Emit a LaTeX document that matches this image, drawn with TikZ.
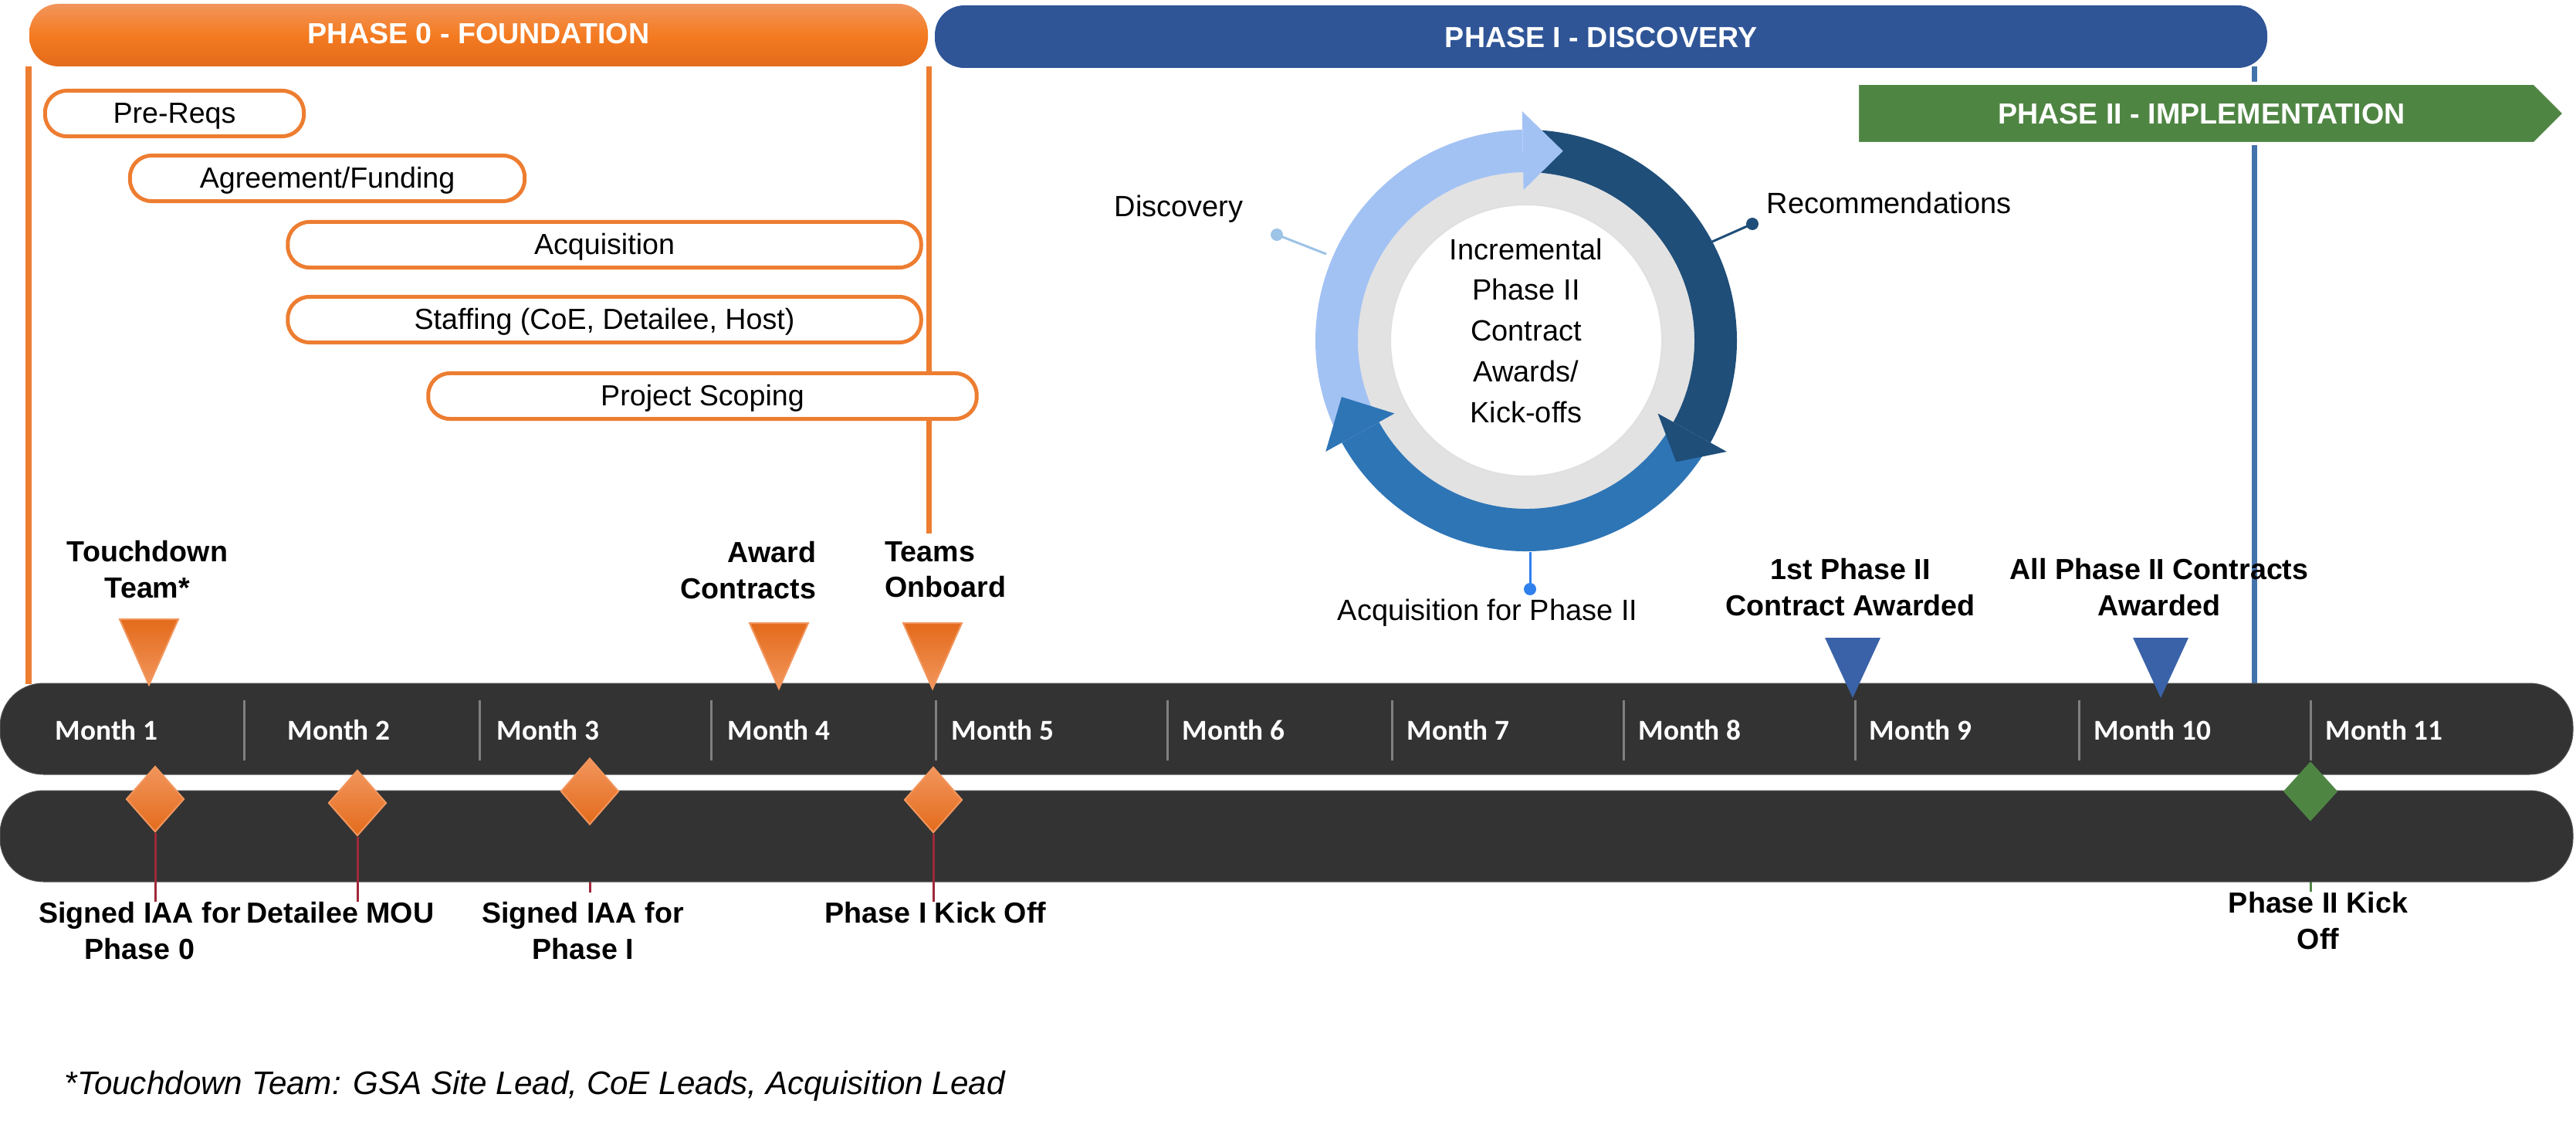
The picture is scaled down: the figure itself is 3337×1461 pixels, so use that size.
\documentclass[tikz,border=0pt]{standalone}
\usepackage{fontspec}
\setmainfont{Liberation Sans}
\newfontfamily\calibri{Carlito}
\usetikzlibrary{shapes.geometric}
\pgfdeclarelayer{back}
\pgfsetlayers{back,main}

\definecolor{orng}{HTML}{ED7D31}
\definecolor{otop}{HTML}{F2955C}
\definecolor{omid}{HTML}{F47B21}
\definecolor{obot}{HTML}{E36B1B}
\definecolor{phaseblue}{HTML}{2F5597}
\definecolor{phasegreen}{HTML}{4F8543}
\definecolor{barbg}{HTML}{333333}
\definecolor{sepgrey}{HTML}{808080}
\definecolor{triblue}{HTML}{3A62A8}
\definecolor{stemred}{HTML}{A0283A}
\definecolor{vblue}{HTML}{4472AB}
\definecolor{arclight}{HTML}{A3C2F4}
\definecolor{arcdark}{HTML}{1F4E79}
\definecolor{arcmid}{HTML}{2E75B6}
\definecolor{leadlight}{HTML}{9DC3E6}
\definecolor{leadbright}{HTML}{2F80ED}
\definecolor{ringgrey}{HTML}{E2E2E2}

\begin{document}
\begin{tikzpicture}[x=0.01cm, y=-0.01cm,
    task/.style={draw=orng, line width=0.05cm, fill=white, rounded corners=0.28cm,
      minimum height=0.59cm, inner sep=0, text height=0.716em, text depth=0pt,
      font=\fontsize{10.7}{13}\selectfont},
    ptitle/.style={anchor=base, inner sep=0, text=white, font=\bfseries\fontsize{10.7}{13}\selectfont},
    mlabel/.style={anchor=north, inner sep=0, align=center, font=\bfseries\fontsize{10.7}{13.1}\selectfont},
    clabel/.style={inner sep=0, font=\fontsize{10.8}{13}\selectfont},
    month/.style={anchor=base west, inner sep=0, text=white, font=\calibri\bfseries\fontsize{10.6}{12}\selectfont},
    sep/.style={sepgrey, line width=0.03cm},
    otri/.style={top color=obot, bottom color=otop, draw=otop, line width=0.02cm},
    btri/.style={fill=triblue},
    kick/.style={diamond, inner sep=0, minimum width=0.75cm, minimum height=0.85cm,
      top color=otop, bottom color=obot, draw=otop, line width=0.02cm},
    stem/.style={stemred, line width=0.03cm},
    vline/.style={line width=0.07cm}]
\useasboundingbox (0,0) rectangle (3337,1461);

% phase markers
\draw[vline, orng] (37,86) -- (37,886);
\draw[vline, orng] (1203,86) -- (1203,691);
\draw[vline, vblue] (2920,86) -- (2920,886);
\draw[rounded corners=0.38cm, top color=otop, bottom color=obot, middle color=omid, draw=none]
    (38,5) rectangle (1202,86);
\fill[phaseblue, rounded corners=0.38cm] (1211,7) rectangle (2937,88);
\draw[fill=phasegreen, draw=white, line width=0.04cm]
    (2406,108) -- (3283,108) -- (3322,147) -- (3283,186) -- (2406,186) -- cycle;
\node[ptitle] (p0) at (620,57) {PHASE 0 - FOUNDATION};
\node[ptitle] (p1) at (2074,62) {PHASE I - DISCOVERY};
\node[ptitle] (p2) at (2852,161) {PHASE II - IMPLEMENTATION};

% phase 0 tasks
\node[task, minimum width=3.35cm] (prereq) at (226,147) {Pre-Reqs};
\node[task, minimum width=5.11cm] (agree) at (424,231) {Agreement/Funding};
\node[task, minimum width=8.20cm] (acq) at (783,317) {Acquisition};
\node[task, minimum width=8.20cm] (staff) at (783,414) {Staffing (CoE, Detailee, Host)};
\node[task, minimum width=7.10cm] (scope) at (910,513) {Project Scoping};

% discovery cycle
\begin{scope}[shift={(1977,441)}, yscale=-1]
  \fill[ringgrey] (0,0) circle (223);
  \draw[fill=white, draw=black!12, line width=0.02cm] (0,0) circle (176);
  \foreach \c/\a/\b in {arclight/205/91, arcdark/86/-29, arcmid/-32/-151}
    \fill[\c] (\a:273) arc[start angle=\a, end angle=\b, radius=273]
      -- (\b:218) arc[start angle=\b, end angle=\a, radius=218] -- cycle;
  \foreach \c/\b/\t in {arclight/91/79, arcdark/-29/-39, arcmid/-151/-163}
    \fill[\c] (\b:195) -- (\b:297) -- (\t:250) -- cycle;
\end{scope}
\node[clabel, align=center, font=\fontsize{10.8}{15}\selectfont] (incr) at (1977,428)
    {Incremental\\Phase II\\Contract\\Awards/\\Kick-offs};

\coordinate (discdot) at (1654,304);
\coordinate (discend) at (1718,329);
\coordinate (recdot) at (2270,290);
\coordinate (recend) at (2218,313);
\coordinate (acqdot) at (1982,763);
\coordinate (acqend) at (1982,715);
\draw[leadlight, line width=0.03cm] (discend) -- (discdot);
\fill[leadlight] (discdot) circle (8);
\draw[arcdark, line width=0.03cm] (recend) -- (recdot);
\fill[arcdark] (recdot) circle (8);
\draw[leadbright, line width=0.03cm] (acqend) -- (acqdot);
\fill[leadbright] (acqdot) circle (8);
\node[clabel, anchor=base east] (disc) at (1611,281) {Discovery};
\node[clabel, anchor=base west] (rec) at (2288,277) {Recommendations};
\node[clabel, anchor=base] (acq2) at (1927,803) {Acquisition for Phase II};

% timeline
\draw[barbg!85!white, fill=barbg, line width=0.01cm, rounded corners=0.56cm] (0,885) rectangle (3333,1003);
\draw[barbg!85!white, fill=barbg, line width=0.01cm, rounded corners=0.56cm] (0,1024) rectangle (3333,1142);
\foreach \x in {316,621,921,1212,1512,1803,2103,2403,2693,2993}
  \draw[sep] (\x,907) -- (\x,985);
\foreach \x [count=\i] in {71,372,643,942,1232,1531,1822,2122,2421,2712,3012}
  \node[month] (m\i) at (\x,958) {Month \i};

% milestones above
\foreach \x/\y/\t in {193/887/802, 1009/892/807, 1208/892/807}
  \draw[otri] (\x,\y) -- (\x-38,\t) -- (\x+38,\t) -- cycle;
\foreach \x in {2400,2799}
  \fill[btri] (\x,904) -- (\x-36,826) -- (\x+36,826) -- cycle;
\node[mlabel] (touch) at (191,700) {Touchdown\\Team*};
\node[mlabel, anchor=north east, align=right] (award) at (1058,701) {Award\\Contracts};
\node[mlabel, anchor=north west, align=left] (teams) at (1146,701) {Teams\\Onboard};
\node[mlabel] (first) at (2397,723) {1st Phase II\\Contract Awarded};
\node[mlabel] (allc) at (2797,723) {All Phase II Contracts\\Awarded};

% milestones below
\node[kick] (d1) at (201,1035) {};
\node[kick] (d2) at (463,1040) {};
\node[kick, minimum height=0.86cm] (d3) at (764,1025) {};
\node[kick] (d4) at (1209,1036) {};
\node[kick, minimum width=0.71cm, minimum height=0.78cm, top color=phasegreen,
  bottom color=phasegreen, draw=none] (d5) at (2993,1025) {};
\node[mlabel] (sign0) at (181,1168) {Signed IAA for\\Phase 0};
\node[mlabel] (mou) at (441,1168) {Detailee MOU};
\node[mlabel] (sign1) at (755,1168) {Signed IAA for\\Phase I};
\node[mlabel] (kick1) at (1212,1168) {Phase I Kick Off};
\node[mlabel] (kick2) at (3003,1155) {Phase II Kick\\Off};
\draw[stem] (d1.south) -- (d1.south |- sign0.north);
\draw[stem] (d2.south) -- (d2.south |- mou.north);
\draw[stem] (d4.south) -- (d4.south |- kick1.north);
\begin{pgfonlayer}{back}
  \draw[stem, shorten >=0.12cm] (d3.south) -- (d3.south |- sign1.north);
  \draw[phasegreen, line width=0.03cm] (d5.south) -- (d5.south |- kick2.north);
\end{pgfonlayer}

\node[anchor=base west, inner sep=0, font=\itshape\fontsize{12}{14}\selectfont] (note) at (83,1417)
  {*Touchdown Team: GSA Site Lead, CoE Leads, Acquisition Lead};
\end{tikzpicture}
\end{document}
